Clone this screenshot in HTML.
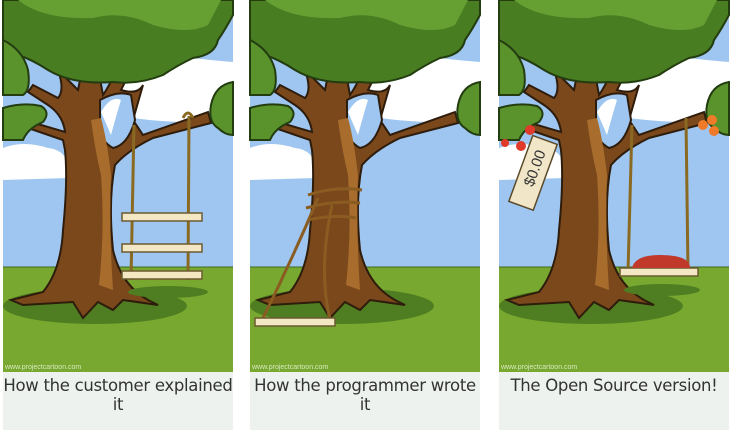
<!DOCTYPE html>
<html><head><style>
body{margin:0;width:735px;height:430px;background:#fff;overflow:hidden;font-family:"DejaVu Sans","Liberation Sans",sans-serif}
.cap{position:absolute;top:372px;height:58px;background:#eef2ee;text-align:center;font-size:16.5px;line-height:19px;color:#333;padding-top:4px;box-sizing:border-box;letter-spacing:-0.3px;white-space:nowrap}
</style></head><body>
<svg width="735" height="430" style="position:absolute;left:0;top:0">
<defs>
<g id="tree">
<rect x="0" y="0" width="230" height="372" fill="#9ec6f0"/>
<path d="M95 110 Q100 75 135 72 Q160 50 190 58 Q205 60 230 62 L230 120 Q180 125 130 118 Q100 120 95 110 Z" fill="#fff"/>
<path d="M0 148 Q20 140 45 148 Q65 150 65 170 L65 178 L0 180 Z" fill="#fff"/>
<rect x="0" y="267" width="230" height="105" fill="#78a82f"/>
<line x1="0" y1="267" x2="230" y2="267" stroke="#3f6a1e" stroke-width="1"/>
<ellipse cx="92" cy="306" rx="92" ry="18" fill="#4f7e22"/>
<path d="M55 70 L75 90 L78 75 L95 68 L100 95 Q110 80 112 70 L122 82 L118 90 Q135 95 140 85 L130 120 L140 135 L205 112 L208 123 L150 138 Q125 150 112 165 Q105 200 110 250 Q118 285 145 300 L155 305 L120 300 L110 310 L95 302 L80 318 L70 302 L20 305 L8 300 L40 292 Q58 270 60 230 Q65 180 62 150 L60 140 L25 128 L28 122 L62 132 Q60 115 45 105 L25 92 L30 85 L55 98 Q62 90 55 70 Z" fill="#7a481b" stroke="#2e1c0c" stroke-width="2"/>
<path d="M97 100 Q115 90 128 95 L132 120 Q125 145 110 148 Q95 140 97 120 Z" fill="#9ec6f0" stroke="#2e1c0c" stroke-width="2"/>
<path d="M98 112 Q108 95 118 100 Q112 120 108 135 Z M115 60 L125 60 L122 75 Z" fill="#fff"/>
<path d="M88 120 Q92 150 98 175 Q102 230 96 285 L110 290 Q106 230 108 175 Q104 140 98 118 Z" fill="#a86c2c"/>
<path d="M0 0 L230 0 L230 15 Q222 30 215 40 Q212 55 190 58 Q175 65 160 75 Q135 85 110 82 Q70 85 45 70 Q30 60 15 55 Q5 50 0 50 Z" fill="#497d22" stroke="#233d10" stroke-width="2"/>
<path d="M15 0 Q40 20 90 18 Q120 10 150 25 Q185 35 205 25 L218 0 Z" fill="#66a033"/>
<path d="M0 40 Q20 50 25 70 Q28 90 20 95 L0 95 Z" fill="#5a922c" stroke="#233d10" stroke-width="2"/>
<path d="M0 108 Q20 102 38 106 Q48 112 40 122 Q25 128 20 140 L0 140 Z" fill="#5a922c" stroke="#233d10" stroke-width="2"/>
<path d="M230 82 Q212 85 208 105 Q205 122 215 128 Q222 135 230 135 Z" fill="#5a922c" stroke="#233d10" stroke-width="2"/>
</g>
</defs>
<use href="#tree" x="3"/>
<use href="#tree" x="250"/>
<use href="#tree" x="499"/>
<!-- panel1 swing -->
<ellipse cx="168" cy="292" rx="40" ry="6" fill="#4f7e22"/>
<g stroke="#8a6a22" stroke-width="3" fill="none"><line x1="134" y1="125" x2="131" y2="280"/><line x1="189" y1="116" x2="188" y2="280"/><path d="M183 118 Q188 108 193 118"/></g>
<g fill="#f3e7c4" stroke="#6b5a30" stroke-width="1.5"><rect x="122" y="213" width="80" height="8"/><rect x="122" y="244" width="80" height="8"/><rect x="122" y="271" width="80" height="8"/></g>
<!-- panel2 -->
<g stroke="#8a5c22" stroke-width="3" fill="none"><path d="M308 195 Q335 186 362 190 M306 208 Q335 200 360 203 M308 220 Q335 214 356 218"/><path d="M318 198 Q292 260 262 320 M332 205 Q318 270 330 320"/></g>
<rect x="255" y="318" width="80" height="8" fill="#f3e7c4" stroke="#6b5a30" stroke-width="1.5"/>
<!-- panel3 -->
<ellipse cx="662" cy="290" rx="38" ry="6" fill="#4f7e22"/>
<g stroke="#8a6a22" stroke-width="3" fill="none"><line x1="632" y1="125" x2="628" y2="272"/><line x1="686" y1="118" x2="688" y2="272"/></g>
<rect x="620" y="268" width="78" height="8" fill="#f3e7c4" stroke="#6b5a30" stroke-width="1.5"/>
<path d="M632 268 Q635 255 660 255 Q690 255 690 268 Z" fill="#c0392b"/>
<g fill="#e03a2a"><circle cx="530" cy="130" r="5"/><circle cx="505" cy="143" r="4"/><circle cx="521" cy="146" r="5"/></g>
<g fill="#ee7a2a"><circle cx="703" cy="125" r="5"/><circle cx="712" cy="120" r="5"/><circle cx="714" cy="131" r="5"/></g>
<g transform="translate(545,140) rotate(20)"><rect x="-13" y="0" width="26" height="70" fill="#f1e6c8" stroke="#5a4a2a" stroke-width="1.5"/><text x="0" y="30" transform="rotate(-90 0 30)" font-size="15" fill="#333" text-anchor="middle" dy="5" font-family="Liberation Sans">$0.00</text></g>
<g font-size="7" fill="#d8e8c0" font-family="Liberation Sans"><text x="5" y="369">www.projectcartoon.com</text><text x="252" y="369">www.projectcartoon.com</text><text x="501" y="369">www.projectcartoon.com</text></g>
</svg>
<div class="cap" style="left:3px;width:230px">How the customer explained<br>it</div>
<div class="cap" style="left:250px;width:230px">How the programmer wrote<br>it</div>
<div class="cap" style="left:499px;width:230px">The Open Source version!</div>
</body></html>
